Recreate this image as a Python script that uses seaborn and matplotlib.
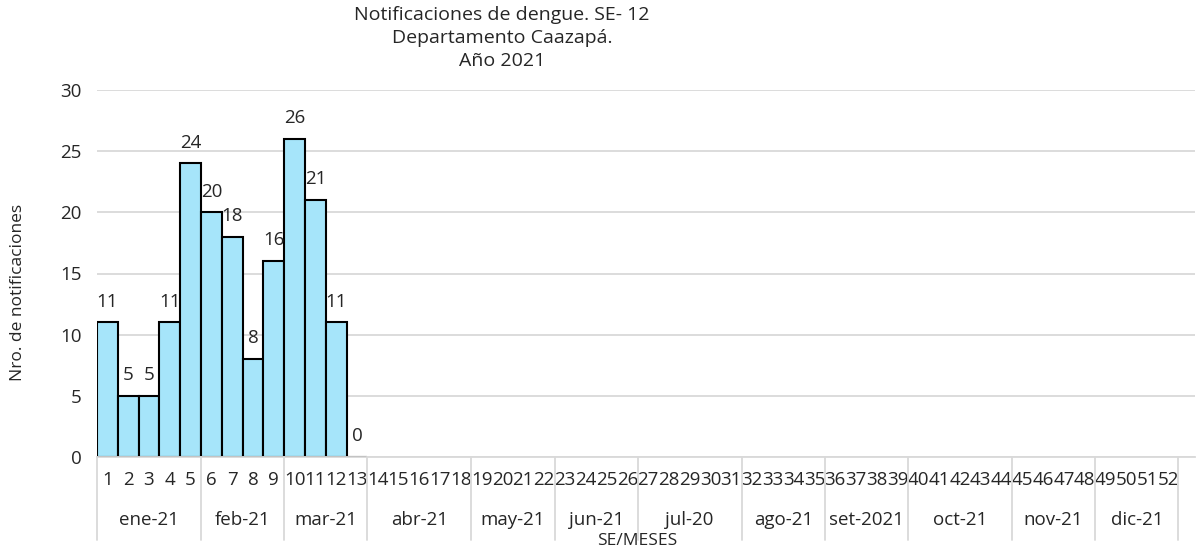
import numpy as np
import pandas as pd
import matplotlib
matplotlib.use("Agg")
import matplotlib.pyplot as plt
import matplotlib.transforms as mtransforms
import seaborn as sns

# ---- data ----
weeks = [str(i) for i in range(1, 53)]
week_with_data = [str(i) for i in range(1, 14)]
cases = [11, 5, 5, 11, 24, 20, 18, 8, 16, 26, 21, 11, 0]
months = ["ene-21", "feb-21", "mar-21", "abr-21", "may-21", "jun-21",
          "jul-20", "ago-21", "set-2021", "oct-21", "nov-21", "dic-21"]
weeks_per_month = [5, 4, 4, 5, 4, 4, 5, 4, 4, 5, 4, 4]

title_lines = ["Notificaciones de dengue. SE- 12", "Departamento Caazapá.", "Año 2021"]

sns.set_theme(style="white")
plt.rcParams["font.family"] = ["Open Sans", "DejaVu Sans"]
TXT = "#262626"
GRID = "#d9d9d9"
FS = 13.5

df = pd.DataFrame({"SE": week_with_data, "casos": cases})

fig = plt.figure(figsize=(11.97, 5.54), dpi=100)
ax = fig.add_axes([97 / 1197, 1 - 457 / 554, 1098 / 1197, 367 / 554])

sns.barplot(data=df, x="SE", y="casos", order=weeks, color="#a6e5fa",
            saturation=1, width=1.0, edgecolor="black", linewidth=1.5, ax=ax)

ax.set_ylim(0, 30)
ax.set_yticks(range(0, 31, 5))
ax.set_xlim(-0.5, 52.3)
ax.yaxis.grid(True, color=GRID, linewidth=1.3)
ax.set_axisbelow(True)
for s in ["left", "right", "top"]:
    ax.spines[s].set_visible(False)
ax.spines["bottom"].set_color(GRID)
ax.spines["bottom"].set_linewidth(1.3)

ax.tick_params(axis="y", length=0, pad=11, labelsize=FS, labelcolor=TXT)
ax.tick_params(axis="x", length=0, pad=10, labelsize=FS, labelcolor=TXT)
ax.set_xticks(range(len(weeks)))
ax.set_xticklabels(weeks)

for cont in ax.containers:
    ax.bar_label(cont, padding=8.5, fontsize=FS, color=TXT)

# month row and separators below the axis
trans = mtransforms.blended_transform_factory(ax.transData, ax.transAxes)
edges = np.concatenate([[0], np.cumsum(weeks_per_month)]) - 0.5
for e in edges:
    ax.plot([e, e], [0, -0.226], transform=trans, color=GRID, lw=1.3, clip_on=False)
for m, a, b in zip(months, edges[:-1], edges[1:]):
    ax.text((a + b) / 2, -0.172, m, transform=trans, ha="center", va="center",
            fontsize=FS, color=TXT)

ax.text((edges[0] + edges[-1]) / 2, -0.23, "SE/MESES", transform=trans,
        ha="center", va="center", fontsize=12.5, color=TXT)
ax.set_xlabel("")
ax.set_ylabel("")
fig.text(18 / 1197, 1 - 292 / 554, "Nro. de notificaciones", rotation=90,
         ha="center", va="center", fontsize=12.5, color=TXT)

fig.text(502 / 1197, 1 - 6 / 554, "\n".join(title_lines), ha="center", va="top",
         fontsize=14, color=TXT, linespacing=1.36)

fig.savefig("out.png", dpi=100)
